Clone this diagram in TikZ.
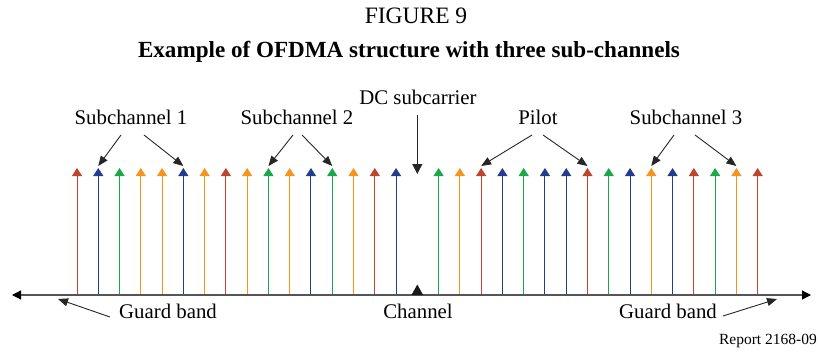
\documentclass[tikz,border=0pt]{standalone}
\usepackage{fontspec}
\setmainfont{Liberation Serif}
\usetikzlibrary{arrows.meta}
\definecolor{cR}{HTML}{C0442B}
\definecolor{cB}{HTML}{233C8F}
\definecolor{cG}{HTML}{1AA84B}
\definecolor{cO}{HTML}{F7941E}
\definecolor{axisgray}{HTML}{555555}
\begin{document}
\begin{tikzpicture}[x=1pt,y=-1pt,
  lbl/.style={inner sep=0pt,font=\fontsize{20.8}{22}\selectfont},
  carrier/.style={line width=1pt,-{Triangle[length=8pt,width=10pt]}},
  pointer/.style={line width=0.9pt,black!85,-{Triangle[length=10pt,width=8pt]}},
  axisline/.style={line width=1.2pt,axisgray,{Triangle[length=9pt,width=9pt,color=black]}-{Triangle[length=9pt,width=9pt,color=black]}}]
\useasboundingbox (0,0) rectangle (818,353);
% title
\node[inner sep=0pt,font=\fontsize{23.5}{25}\selectfont] (fig) at (416,16) {FIGURE 9};
\node[inner sep=0pt,font=\fontsize{23.1}{25}\selectfont\bfseries] (title) at (409,52) {Example of OFDMA structure with three sub-channels};
% carriers
\foreach \i/\c in {0/cR,1/cB,2/cG,3/cO,4/cO,5/cB,6/cO,7/cR,8/cO,9/cG,10/cO,11/cB,12/cG,13/cO,14/cR,15/cB,
                   17/cG,18/cO,19/cR,20/cB,21/cG,22/cB,23/cB,24/cR,25/cG,26/cB,27/cO,28/cB,29/cR,30/cG,31/cO,32/cR}{
  \coordinate (b\i) at ({77+21.27*\i},295);
  \coordinate (t\i) at ({77+21.27*\i},168);
  \coordinate (p\i) at ({77+21.27*\i},166);
  \draw[carrier,\c] (b\i) -- (t\i);
}
% axis
\coordinate (axL) at (12,295);
\coordinate (axR) at (811,295);
\draw[axisline] (axL) -- (axR);
% DC marker triangle
\coordinate (dcb) at (417.3,295);
\fill[black!90] (411.5,295) -- (417.3,284.5) -- (423.1,295) -- cycle;
% labels
\node[lbl] (sc1) at (131,117) {Subchannel 1};
\node[lbl] (sc2) at (297,117) {Subchannel 2};
\node[lbl] (dc) at (418,97) {DC subcarrier};
\node[lbl] (pilot) at (538,117) {Pilot};
\node[lbl] (sc3) at (686,117) {Subchannel 3};
\node[lbl] (gb1) at (168,311) {Guard band};
\node[lbl] (ch) at (418,311) {Channel};
\node[lbl] (gb2) at (668,311) {Guard band};
\node[inner sep=0pt,anchor=east,font=\fontsize{15.5}{17}\selectfont] (rep) at (817,341) {Report 2168-09};
% pointers
\coordinate (dctop) at (417.3,115);
\coordinate (dctip) at (417.3,174);
\draw[line width=0.9pt,black!85,-{Triangle[length=10pt,width=10pt]}] (dctop) -- (dctip);
\draw[pointer] (121,135) -- (p1);
\draw[pointer] (144,135) -- (p5);
\draw[pointer] (293,135) -- (p9);
\draw[pointer] (302,135) -- (p12);
\draw[pointer] (532,135) -- (p19);
\draw[pointer] (543,135) -- (p24);
\draw[pointer] (674,135) -- (p27);
\draw[pointer] (695,135) -- (p31);
\coordinate (g1t) at (58,299);
\coordinate (g2t) at (777,299);
\draw[pointer] (110,317) -- (g1t);
\draw[pointer] (723,316) -- (g2t);
\end{tikzpicture}
\end{document}
